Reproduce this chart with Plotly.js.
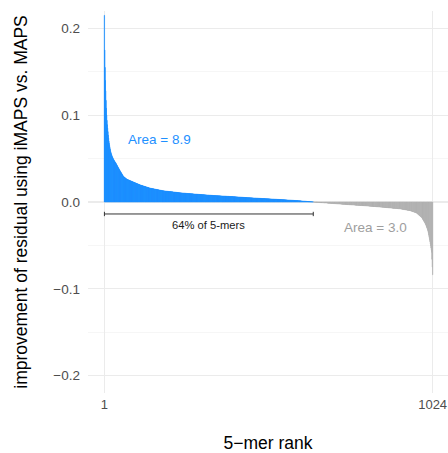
<!DOCTYPE html>
<html>
<head>
<meta charset="utf-8">
<script src="https://cdn.plot.ly/plotly-3.0.1.min.js"></script>
<style>
  html, body { margin: 0; padding: 0; background: #ffffff; }
  #chart { width: 448px; height: 453px; }
</style>
</head>
<body>
<div id="chart"></div>
<script>
// Improvement of residual (iMAPS vs. MAPS) per 5-mer, sorted by rank.
// Stored in units of 1e-4.
const improvementE4 = [
  2150,1750,1550,1400,1280,1170,1080,1000,940,890,
  850,810,770,735,700,675,650,628,608,590,
  574,560,548,537,527,518,510,502,494,487,
  480,474,468,462,456,451,446,
  439,432,425,418,411,404,397,390,384,377,370,
  364,358,351,345,339,333,326,320,314,308,301,295,
  292,289,286,283,280,277,274,271,268,265,262,
  260,259,257,256,254,252,251,249,248,246,244,243,241,240,238,
  236,235,233,232,230,229,227,225,224,222,221,219,217,216,214,213,211,210,208,206,205,203,202,200,199,197,
  196,195,193,192,191,190,189,187,186,185,184,183,181,180,179,178,177,175,174,173,172,171,169,168,167,166,165,163,162,161,160,
  159,158,158,157,156,155,155,154,153,152,152,151,150,149,149,148,147,146,146,145,144,143,143,142,141,140,140,139,138,137,137,136,135,134,134,133,132,131,131,130,129,129,
  128,128,127,127,126,126,126,125,125,124,124,123,123,123,122,122,121,121,120,120,120,119,119,118,118,117,117,117,116,116,115,115,114,114,114,113,113,112,112,111,111,110,110,109,109,108,108,107,107,106,106,106,
  105,105,105,104,104,104,103,103,103,102,102,102,102,101,101,101,100,100,100,99,99,99,98,98,98,98,97,97,97,96,96,96,95,95,95,94,94,94,94,93,93,93,92,92,92,91,91,91,90,90,90,90,
  89,89,89,88,88,88,88,87,87,87,86,86,86,86,85,85,85,84,84,84,84,83,83,83,82,82,82,82,81,81,81,80,80,80,80,79,79,79,78,78,78,78,77,77,77,76,76,76,76,75,75,75,
  74,74,74,74,74,73,73,73,73,73,72,72,72,72,71,71,71,71,71,70,70,70,70,70,69,69,69,69,68,68,68,68,68,67,67,67,67,67,66,66,66,66,65,65,65,65,65,64,64,64,64,64,
  63,63,63,63,62,62,62,62,61,61,61,61,60,60,60,60,59,59,59,59,58,58,58,58,57,57,57,57,56,56,56,56,55,55,55,55,54,54,54,54,53,53,53,53,52,52,52,52,51,51,51,51,
  50,50,50,50,50,49,49,49,49,48,48,48,48,48,47,47,47,47,47,46,46,46,46,45,45,45,45,45,44,44,44,44,44,43,43,43,43,42,42,42,42,42,41,41,41,41,40,40,40,40,40,
  39,39,39,39,39,38,38,38,38,38,37,37,37,37,36,36,36,36,36,35,35,35,35,35,34,34,34,34,33,33,33,33,33,32,32,32,32,32,31,31,31,31,30,30,30,30,30,29,29,29,29,29,
  28,28,28,28,27,27,27,27,27,26,26,26,26,25,25,25,25,24,24,24,24,24,23,23,23,23,22,22,22,22,21,21,21,21,21,20,20,20,20,19,19,19,19,18,18,18,18,18,17,17,17,17,
  16,16,16,15,15,15,14,14,14,13,13,13,13,12,12,12,11,11,11,10,10,10,9,9,9,9,8,8,8,7,7,7,6,6,6,5,5,5,5,4,4,4,3,3,3,2,2,2,1,1,1,1,
  -1,-1,-1,-1,-2,-2,-2,-2,-3,-3,-3,-4,-4,-4,-4,-5,-5,-5,-5,-6,-6,-6,-7,-7,-7,-7,-8,-8,-8,-8,-9,-9,-9,-10,-10,-10,-10,-11,-11,-11,-11,-12,-12,-12,-13,-13,-13,-13,-14,-14,-14,-14,-15,-15,-15,-16,-16,-16,-16,-17,-17,-17,
  -18,-18,-18,-18,-19,-19,-19,-19,-20,-20,-20,-21,-21,-21,-21,-22,-22,-22,-22,-23,-23,-23,-23,-24,-24,-24,-25,-25,-25,-25,-26,-26,-26,-26,-27,-27,-27,-27,-28,-28,-28,-29,-29,-29,-29,-30,-30,-30,-30,-31,-31,-31,
  -32,-32,-32,-32,-33,-33,-33,-33,-34,-34,-34,-34,-35,-35,-35,-35,-36,-36,-36,-36,-37,-37,-37,-37,-38,-38,-38,-38,-39,-39,-39,-39,-40,-40,-40,-40,-41,-41,-41,-41,-42,-42,-42,-42,-43,-43,-43,-43,-44,-44,-44,-44,
  -45,-45,-45,-46,-46,-46,-47,-47,-47,-48,-48,-48,-48,-49,-49,-49,-50,-50,-50,-51,-51,-51,-52,-52,-52,-52,-53,-53,-53,-54,-54,-54,-55,-55,-55,-56,-56,-56,-56,-57,-57,-57,-58,-58,-58,-59,-59,-59,-60,-60,-60,-60,
  -61,-61,-61,-62,-62,-62,-63,-63,-63,-64,-64,-65,-65,-65,-66,-66,-66,-67,-67,-67,-68,-68,-68,-69,-69,-69,-70,-70,-71,-71,-71,-72,-72,-72,-73,-73,-73,-74,-74,-74,-75,-75,-75,-76,-76,-76,-77,-77,-77,-78,-78,-78,
  -79,-80,-80,-81,-82,-82,-83,-84,-84,-85,-86,-86,-87,-88,-88,-89,-90,-90,-91,-92,-92,-93,-94,-94,-95,-96,-96,-97,-97,-98,-98,
  -99,-101,-102,-103,-105,-106,-107,-109,-110,-111,-113,-114,-115,-117,-118,-119,-121,-122,-123,-125,-126,
  -129,-132,-135,-139,-142,-145,-148,-152,-155,-158,-161,-165,-168,-171,-174,-178,
  -184,-190,-197,-203,-209,-215,-221,-228,-234,-240,
  -248,-256,-265,-274,-284,-294,-304,-315,-327,-340,
  -358,-378,-398,-419,-440,
  -460,-483,-506,-530,-555,-580,
  -660,-750,-838
];

const yTickVals = [-0.2, -0.1, 0, 0.1, 0.2];
const yTickText = ['\u22120.2', '\u22120.1', '0.0', '0.1', '0.2'];
const xTickVals = [1, 1024];
const xTickText = ['1', '1024'];
const positiveAreaLabel = 'Area = 8.9';
const negativeAreaLabel = 'Area = 3.0';
const spanLabel = '64% of 5-mers';

const improvement = improvementE4.map(v => v / 1e4);
const rank = improvement.map((_, i) => i + 1);
const nPositive = improvement.filter(v => v > 0).length;

const BLUE = '#1E90FF';
const GREY = '#B3B3B3';
const FONT = 'Liberation Sans, Arial, Helvetica, sans-serif';

const barColors = improvement.map(v => (v > 0 ? BLUE : GREY));

// bars are far narrower than a pixel; a matching outline keeps the fill solid
const bars = {
  type: 'bar',
  x: rank,
  y: improvement,
  marker: { color: barColors, line: { width: 0.6, color: barColors } },
  hoverinfo: 'x+y',
  showlegend: false
};

// span of 5-mers with a positive improvement, drawn as a horizontal error bar
const spanY = -0.0138;
const span = {
  type: 'scatter',
  mode: 'lines',
  x: [1, nPositive],
  y: [spanY, spanY],
  line: { color: '#333333', width: 1 },
  error_y: { type: 'constant', value: 0.0025, width: 0, thickness: 1, color: '#333333' },
  hoverinfo: 'skip',
  showlegend: false
};

const layout = {
  width: 448,
  height: 453,
  margin: { l: 88, r: 0, t: 11, b: 60 },
  paper_bgcolor: '#ffffff',
  plot_bgcolor: '#ffffff',
  bargap: 0,
  font: { family: FONT, color: '#000000' },
  xaxis: {
    range: [-50.15, 1071.9],
    tickvals: xTickVals,
    ticktext: xTickText,
    ticks: '',
    ticklabelstandoff: 2,
    ticklabeloverflow: 'allow',
    tickfont: { size: 13, color: '#4D4D4D', family: FONT },
    showgrid: true,
    gridcolor: '#EBEBEB',
    gridwidth: 1.1,
    zeroline: false,
    showline: false,
    title: { text: '5\u2212mer rank', font: { size: 17.5, color: '#000000', family: FONT }, standoff: 34 }
  },
  yaxis: {
    range: [-0.22, 0.22],
    tickvals: yTickVals,
    ticktext: yTickText,
    ticks: '',
    ticklabelstandoff: 7,
    tickfont: { size: 13.5, color: '#4D4D4D', family: FONT },
    showgrid: true,
    gridcolor: '#EBEBEB',
    gridwidth: 1.1,
    minor: { tickvals: [-0.15, -0.05, 0.05, 0.15], showgrid: true, gridcolor: '#F2F2F2', gridwidth: 0.7, ticks: '' },
    zeroline: false,
    showline: false,
    title: { text: 'improvement of residual using iMAPS vs. MAPS', font: { size: 17.5, color: '#000000', family: FONT }, standoff: 21 }
  },
  annotations: [
    { x: 173, y: 0.0718, xref: 'x', yref: 'y', xanchor: 'center', text: positiveAreaLabel, showarrow: false,
      font: { size: 13.5, color: BLUE, family: FONT } },
    { x: 846, y: -0.0288, xref: 'x', yref: 'y', xanchor: 'center', text: negativeAreaLabel, showarrow: false,
      font: { size: 13.5, color: '#9E9E9E', family: FONT } },
    { x: (1 + nPositive) / 2, y: -0.0265, xref: 'x', yref: 'y', xanchor: 'center', text: spanLabel, showarrow: false,
      font: { size: 11.2, color: '#1A1A1A', family: FONT } }
  ]
};

Plotly.newPlot('chart', [bars, span], layout, { displayModeBar: false, staticPlot: true });
</script>
</body>
</html>
